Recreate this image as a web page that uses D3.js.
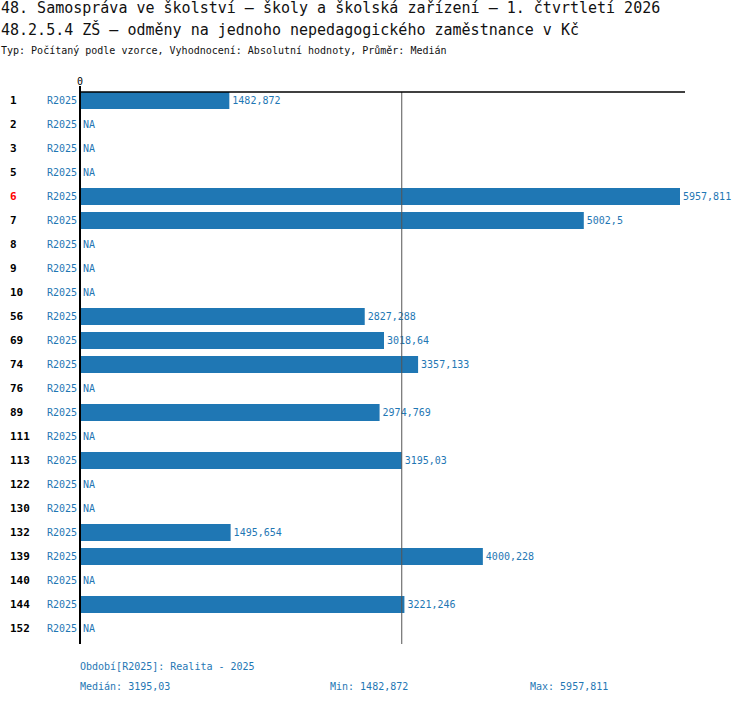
<!DOCTYPE html>
<html><head><meta charset="utf-8">
<script src="https://cdn.jsdelivr.net/npm/d3@7"></script>
<style>body{margin:0;background:#fff}text{font-family:"DejaVu Sans Mono",monospace}</style>
</head><body><svg width="750" height="704"></svg>
<script>
var categories = ["1","2","3","5","6","7","8","9","10","56","69","74","76","89","111","113","122","130","132","139","140","144","152"];
var values = [1482.872,null,null,null,5957.811,5002.5,null,null,null,2827.288,3018.64,3357.133,null,2974.769,null,3195.03,null,null,1495.654,4000.228,null,3221.246,null];
var labels = ["1482,872","NA","NA","NA","5957,811","5002,5","NA","NA","NA","2827,288","3018,64","3357,133","NA","2974,769","NA","3195,03","NA","NA","1495,654","4000,228","NA","3221,246","NA"];
var highlighted = "6";
var median = 3195.03;
var blue = "#1f77b4";

var svg = d3.select("svg");
var x = d3.scaleLinear().domain([0, 5957.811]).range([80, 680]);
var y = d3.scaleBand().domain(categories).range([88, 640]);

svg.append("text").attr("x", 1).attr("y", 13).attr("font-size", 15).attr("fill", "#111")
    .text("48. Samospráva ve školství – školy a školská zařízení – 1. čtvrtletí 2026");
svg.append("text").attr("x", 1).attr("y", 35).attr("font-size", 15).attr("fill", "#111")
    .text("48.2.5.4 ZŠ – odměny na jednoho nepedagogického zaměstnance v Kč");
svg.append("text").attr("x", 1).attr("y", 54).attr("font-size", 10).attr("fill", "#111")
    .text("Typ: Počítaný podle vzorce, Vyhodnocení: Absolutní hodnoty, Průměr: Medián");

svg.append("text").attr("x", x(0)).attr("y", 85).attr("font-size", 10).attr("text-anchor", "middle").text("0");

var rows = svg.selectAll("g.row").data(categories).enter().append("g").attr("class", "row");
rows.append("text").attr("x", 10).attr("y", d => y(d) + y.bandwidth() / 2 + 4)
    .attr("font-size", 11).attr("font-weight", "bold")
    .attr("fill", d => d === highlighted ? "red" : "#000").text(d => d);
rows.append("text").attr("x", 77).attr("y", d => y(d) + y.bandwidth() / 2 + 4)
    .attr("font-size", 10).attr("text-anchor", "end").attr("fill", blue).text("R2025");
rows.filter((d, i) => values[i] != null).append("rect")
    .attr("x", x(0)).attr("y", d => y(d) + 4)
    .attr("width", d => x(values[categories.indexOf(d)]) - x(0)).attr("height", 17).attr("fill", blue);
rows.append("text")
    .attr("x", (d, i) => (values[i] != null ? x(values[i]) : x(0)) + 3)
    .attr("y", d => y(d) + y.bandwidth() / 2 + 4)
    .attr("font-size", 10).attr("fill", blue).text((d, i) => labels[i]);

svg.append("line").attr("x1", x(median)).attr("x2", x(median)).attr("y1", 92).attr("y2", 644)
    .attr("stroke", "#555").attr("stroke-width", 1);
svg.append("line").attr("x1", 79).attr("x2", 685).attr("y1", 92).attr("y2", 92).attr("stroke", "#000").attr("stroke-width", 1.5);
svg.append("line").attr("x1", 80).attr("x2", 80).attr("y1", 86).attr("y2", 644).attr("stroke", "#000").attr("stroke-width", 2);

svg.append("text").attr("x", 80).attr("y", 670).attr("font-size", 10).attr("fill", blue).text("Období[R2025]: Realita - 2025");
svg.append("text").attr("x", 80).attr("y", 690).attr("font-size", 10).attr("fill", blue).text("Medián: 3195,03");
svg.append("text").attr("x", 330).attr("y", 690).attr("font-size", 10).attr("fill", blue).text("Min: 1482,872");
svg.append("text").attr("x", 530).attr("y", 690).attr("font-size", 10).attr("fill", blue).text("Max: 5957,811");
</script></body></html>
